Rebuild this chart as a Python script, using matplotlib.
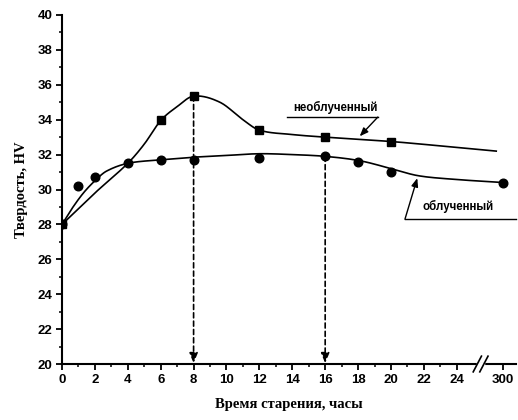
import numpy as np
import matplotlib
matplotlib.use("Agg")
import matplotlib.pyplot as plt

# ---- data (hours, HV) ----
unirr_t = [0, 6, 8, 12, 16, 20]
unirr_hv = [28.0, 34.0, 35.35, 33.4, 33.0, 32.75]
irr_t = [0, 1, 2, 4, 6, 8, 12, 16, 18, 20, 300]
irr_hv = [28.0, 30.2, 30.7, 31.5, 31.7, 31.7, 31.8, 31.9, 31.6, 31.0, 30.4]

# fitted-curve nodes (axis position units, HV)
unirr_fit_x = [0, 2, 4, 5, 6, 7, 8, 9.6, 11, 12, 14, 16, 20, 23, 26.4]
unirr_fit_y = [28.0, 29.8, 31.5, 32.6, 33.95, 34.75, 35.35, 35.0, 34.0, 33.4, 33.15, 33.0, 32.75, 32.5, 32.2]
irr_fit_x = [0, 0.6, 1.3, 2.0, 2.7, 4, 6, 8, 10, 12, 14, 16, 18.1, 20, 21.6, 23.6, 26.8]
irr_fit_y = [28.0, 28.9, 29.8, 30.5, 31.05, 31.5, 31.7, 31.85, 31.95, 32.05, 32.0, 31.9, 31.65, 31.2, 30.8, 30.6, 30.4]

x_tick_labels = ["0", "2", "4", "6", "8", "10", "12", "14", "16", "18", "20", "22", "24", "300"]
y_ticks = [20, 22, 24, 26, 28, 30, 32, 34, 36, 38, 40]

POS_300 = 26.8


def pos(t):
    t = np.asarray(t, dtype=float)
    return np.where(t > 24, POS_300, t)


def hermite(x, y, n=25):
    x = np.asarray(x, float); y = np.asarray(y, float)
    m = np.empty_like(y)
    m[1:-1] = (y[2:] - y[:-2]) / (x[2:] - x[:-2])
    m[0] = (y[1] - y[0]) / (x[1] - x[0])
    m[-1] = (y[-1] - y[-2]) / (x[-1] - x[-2])
    ox, oy = [], []
    for i in range(len(x) - 1):
        h = x[i + 1] - x[i]
        s = np.linspace(0, 1, n, endpoint=False)
        h00 = 2 * s**3 - 3 * s**2 + 1
        h10 = s**3 - 2 * s**2 + s
        h01 = -2 * s**3 + 3 * s**2
        h11 = s**3 - s**2
        ox.extend(x[i] + s * h)
        oy.extend(h00 * y[i] + h10 * h * m[i] + h01 * y[i + 1] + h11 * h * m[i + 1])
    ox.append(x[-1]); oy.append(y[-1])
    return np.array(ox), np.array(oy)


fig = plt.figure(figsize=(5.18, 4.2), dpi=100)
ax = fig.add_axes([0.1197, 0.1333, 0.8764, 0.831])

lw = 1.2
cx, cy = hermite(unirr_fit_x, unirr_fit_y)
ax.plot(cx, cy, color="black", lw=lw)
cx, cy = hermite(irr_fit_x, irr_fit_y)
ax.plot(cx, cy, color="black", lw=lw)

ax.plot(pos(unirr_t), unirr_hv, "s", color="black", ms=5.2, zorder=5)
ax.plot(pos(irr_t), irr_hv, "o", color="black", ms=6.2, zorder=5)

# dashed vertical arrows
for t, v in ((8, unirr_hv[2]), (16, irr_hv[7])):
    ax.annotate("", xy=(t, 20.05), xytext=(t, v),
                arrowprops=dict(arrowstyle="-|>,head_width=0.25,head_length=0.6",
                                color="black", lw=1.2, ls=(0, (3, 2)), shrinkA=0, shrinkB=0))

ax.set_xlim(0, 27.6)
ax.set_ylim(20, 40)
ax.set_xticks(list(range(0, 25, 2)) + [POS_300])
ax.set_xticklabels(x_tick_labels)
ax.set_xticks(list(range(1, 25, 2)), minor=True)
ax.set_yticks(y_ticks)
ax.set_yticks(range(21, 40, 2), minor=True)

for s in ("top", "right"):
    ax.spines[s].set_visible(False)
for s in ("left", "bottom"):
    ax.spines[s].set_linewidth(1.5)
ax.tick_params(which="major", direction="out", length=4, width=1.3, pad=3)
ax.tick_params(which="minor", direction="out", length=2.5, width=1.1)
for lab in ax.get_xticklabels() + ax.get_yticklabels():
    lab.set_fontfamily("Liberation Sans")
    lab.set_fontweight("bold")
    lab.set_fontsize(9.5)

# axis break marks
for xb in (25.25, 25.65):
    ax.plot([xb - 0.25, xb + 0.25], [19.55, 20.45], color="black", lw=1.2, clip_on=False, zorder=6)
ax.plot([25.3, 25.6], [20, 20], color="white", lw=2.5, clip_on=False, zorder=5.5)

serif = dict(family="Liberation Serif", fontweight="bold", fontsize=10.5)
ax.set_xlabel("Время старения, часы", labelpad=9, **serif)
ax.set_ylabel("Твердость, HV", labelpad=7, **serif)

sans = dict(family="Liberation Sans", fontweight="bold", fontsize=8.3)
# label "необлученный"
ax.text(16.6, 34.7, "необлученный", ha="center", va="center", **sans)
ax.plot([13.7, 19.2], [34.15, 34.15], color="black", lw=1.0)
ax.annotate("", xy=(18.1, 33.05), xytext=(19.2, 34.15),
            arrowprops=dict(arrowstyle="-|>,head_width=0.2,head_length=0.5", color="black", lw=1.0,
                            shrinkA=0, shrinkB=0))
# label "облученный"
ax.text(24.1, 29.05, "облученный", ha="center", va="center", **sans)
ax.plot([20.85, 27.6], [28.3, 28.3], color="black", lw=1.0, clip_on=False)
ax.annotate("", xy=(21.6, 30.65), xytext=(20.85, 28.3),
            arrowprops=dict(arrowstyle="-|>,head_width=0.2,head_length=0.5", color="black", lw=1.0,
                            shrinkA=0, shrinkB=0))

fig.savefig("out.png", dpi=100)
